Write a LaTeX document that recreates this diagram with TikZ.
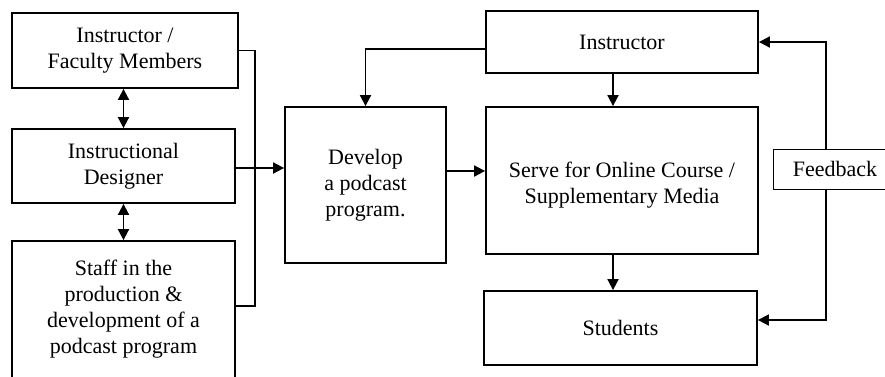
\documentclass[tikz,border=0pt]{standalone}
\usepackage{fontspec}
\setmainfont{Liberation Serif}
\usetikzlibrary{arrows.meta,calc}
\begin{document}
\begin{tikzpicture}[x=1pt,y=-1pt,
  box/.style={draw,line width=1.8pt,rectangle,align=center,inner sep=0pt,
    font=\fontsize{22}{26}\selectfont},
  fbox/.style={draw,line width=1pt,rectangle,align=center,inner sep=0pt,
    font=\fontsize{22}{26}\selectfont},
  conn/.style={line width=1.8pt,-{Triangle[length=11pt,width=11pt]}},
  dconn/.style={line width=1.8pt,{Triangle[length=11pt,width=11pt]}-{Triangle[length=11pt,width=11pt]}},
  plain/.style={line width=1.8pt}]
\useasboundingbox (0,0) rectangle (885,376);
\clip (0,0) rectangle (885,376);
% left column
\node[box,minimum width=226pt,minimum height=75pt] (A) at (125,50.5) {Instructor /\\Faculty Members};
\node[box,minimum width=223pt,minimum height=74pt] (B) at (123.5,166) {Instructional\\Designer};
\node[box,minimum width=223pt,minimum height=138pt] (C) at (123.5,310) {};
\node[font=\fontsize{22}{26}\selectfont,align=center] (Ct) at (123.5,309) {Staff in the\\production \&\\development of a\\podcast program};
% middle
\node[box,minimum width=161pt,minimum height=156pt] (D) at (365.5,185) {Develop\\a podcast\\program.};
% right column
\node[box,minimum width=272pt,minimum height=62pt] (I) at (622,42) {Instructor};
\node[box,minimum width=272pt,minimum height=147pt] (S) at (622,180.5) {};
\node[font=\fontsize{22}{26}\selectfont,align=center] (St) at (622,185) {Serve for Online Course /\\Supplementary Media};
\node[box,minimum width=273pt,minimum height=74pt] (T) at (620.5,328) {Students};
\node[fbox,minimum width=124pt,minimum height=40pt] (F) at (835,169) {Feedback};
% helper coordinates
\coordinate (bx) at (255,0);
\coordinate (vx) at (613,0);
\coordinate (fx) at (826,0);
% connectors
\draw[dconn] (A.south -| B.north) -- (B.north);
\draw[dconn] (B.south) -- (C.north);
\draw[plain] (A.east) -- (bx |- A.east) -- ($(bx |- C.east)+(0,-4)$) -- ($(C.east)+(0,-4)$);
\draw[conn] ($(B.east)+(0,2)$) -- ($(B.east -| D.west)+(0,2)$);
\draw[conn] ($(I.west)+(0,7)$) -| (D.north);
\draw[conn] ($(D.east)+(0,-14)$) -- ($(D.east -| S.west)+(0,-14)$);
\draw[conn] (vx |- I.south) -- (vx |- S.north);
\draw[conn] (vx |- S.south) -- (vx |- T.north);
\draw[conn] (fx |- F.north) |- (I.east);
\draw[conn] (fx |- F.south) |- ($(T.east)+(0,-8)$);
\end{tikzpicture}
\end{document}
